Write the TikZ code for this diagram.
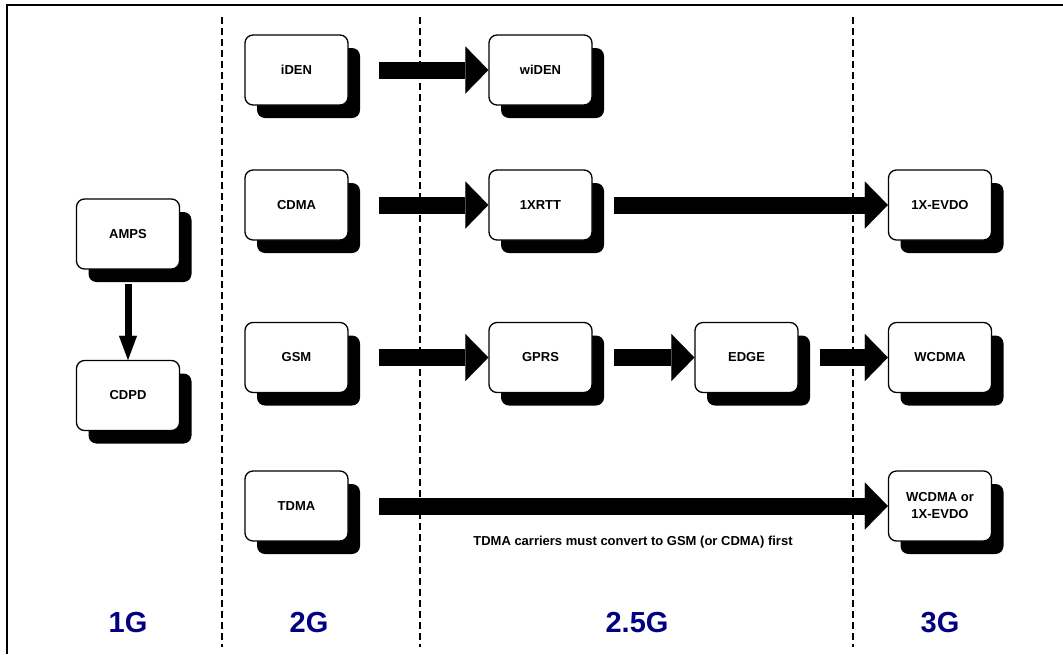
\documentclass[tikz,border=0pt]{standalone}
\usepackage{fontspec}
\setmainfont{Liberation Sans}
\usetikzlibrary{arrows.meta,shadows}
\definecolor{gennavy}{RGB}{0,0,128}
\tikzset{
  techbox/.style={draw=black, line width=1.3pt, fill=white, rounded corners=8pt,
    minimum width=103pt, minimum height=70pt, inner sep=0pt, align=center,
    font=\bfseries\fontsize{13}{17}\selectfont,
    drop shadow={fill=black, opacity=1, shadow xshift=12pt, shadow yshift=-13pt}},
  bigarrow/.style={line width=17pt,
    -{Triangle[length=23pt, width=47pt, line width=0.01pt]}},
  thinarrow/.style={line width=7pt,
    -{Triangle[length=24pt, width=18pt, line width=0.01pt]}},
  era/.style={dash pattern=on 7pt off 4pt, line width=1.8pt},
  genlabel/.style={text=gennavy, font=\bfseries\fontsize{29}{34}\selectfont},
  note/.style={font=\bfseries\fontsize{13}{16}\selectfont}
}
\begin{document}
\begin{tikzpicture}[x=1pt, y=-1pt]
  \useasboundingbox (0,0) rectangle (1063,654);

  % open frame: top and left edges
  \draw[line width=2.2pt] (7,654) -- (7,5) -- (1063,5);

  % generation separators
  \draw[era] (222,17) -- (222,647);
  \draw[era] (420,17) -- (420,647);
  \draw[era] (853,17) -- (853,647);

  % 1G
  \node[techbox] (amps) at (128,234) {AMPS};
  \node[techbox] (cdpd) at (128,395.5) {CDPD};

  % 2G
  \node[techbox] (iden) at (296.5,70) {iDEN};
  \node[techbox] (cdma) at (296.5,205) {CDMA};
  \node[techbox] (gsm)  at (296.5,357.5) {GSM};
  \node[techbox] (tdma) at (296.5,506) {TDMA};

  % 2.5G
  \node[techbox] (widen) at (540.5,70) {wiDEN};
  \node[techbox] (xrtt)  at (540.5,205) {1XRTT};
  \node[techbox] (gprs)  at (540.5,357.5) {GPRS};
  \node[techbox] (edge)  at (746.5,357.5) {EDGE};

  % 3G
  \node[techbox] (evdo)    at (940,205) {1X-EVDO};
  \node[techbox] (wcdma)   at (940,357.5) {WCDMA};
  \node[techbox] (wcdmaor) at (940,506) {WCDMA or\\1X-EVDO};

  % migration paths
  \draw[thinarrow] ([yshift=-14pt]amps.south) -- (cdpd.north);
  \draw[bigarrow] ([xshift=30pt]iden.east) -- (widen.west);
  \draw[bigarrow] ([xshift=30pt]cdma.east) -- (xrtt.west);
  \draw[bigarrow] ([xshift=21pt]xrtt.east) -- (evdo.west);
  \draw[bigarrow] ([xshift=30pt]gsm.east) -- (gprs.west);
  \draw[bigarrow] ([xshift=21pt]gprs.east) -- (edge.west);
  \draw[bigarrow] ([xshift=21pt]edge.east) -- (wcdma.west);
  \draw[bigarrow] ([xshift=30pt]tdma.east) -- (wcdmaor.west);

  \node[note] (tdmanote) at (633,542) {TDMA carriers must convert to GSM (or CDMA) first};

  % generation labels
  \node[genlabel] (g1)  at (128,623) {1G};
  \node[genlabel] (g2)  at (309,623) {2G};
  \node[genlabel] (g25) at (637,623) {2.5G};
  \node[genlabel] (g3)  at (940,623) {3G};
\end{tikzpicture}
\end{document}
